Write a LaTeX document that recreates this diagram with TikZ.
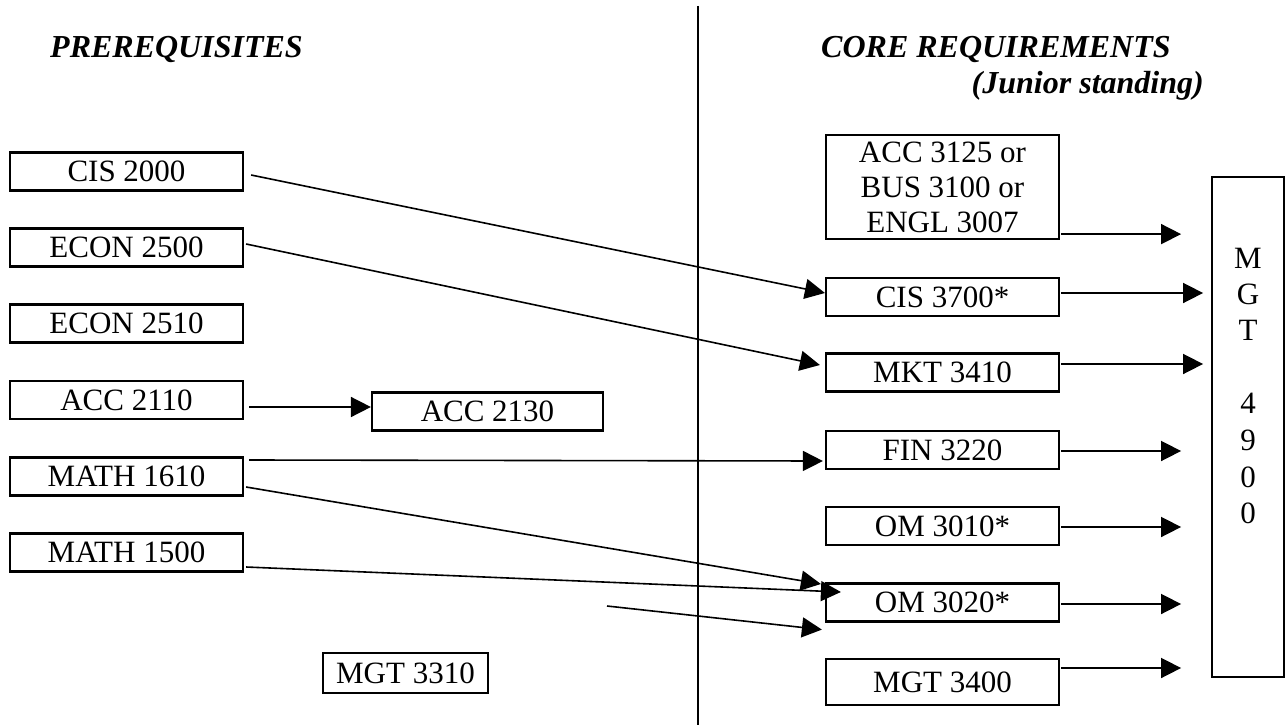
\documentclass[tikz,border=0pt]{standalone}
\usepackage{fontspec}
\setmainfont{Liberation Serif}
\usetikzlibrary{arrows.meta}
\begin{document}
\begin{tikzpicture}[x=1pt,y=-1pt,
  course/.style={draw, line width=2.2pt, minimum width=233pt, minimum height=38pt,
    inner sep=0pt, font=\fontsize{31}{35}\selectfont, align=center},
  heading/.style={font=\fontsize{32}{36}\selectfont\bfseries\itshape, inner sep=0pt},
  letter/.style={font=\fontsize{31}{35}\selectfont, inner sep=0pt},
  arr/.style={line width=1.6pt, -{Triangle[length=20pt,width=20pt]}},
  divider/.style={line width=1.6pt}
]
\useasboundingbox (0,0) rectangle (1287,725);

% headings
\node[heading, anchor=base west] (pre) at (50,57) {PREREQUISITES};
\node[heading, anchor=base west] (core) at (821,57) {CORE REQUIREMENTS};
\node[heading, anchor=base east] (junior) at (1204,93) {(Junior standing)};

% divider
\coordinate (divtop) at (698,6);
\coordinate (divbot) at (698,725);
\draw[divider] (divtop) -- (divbot);

% prerequisites
\node[course] (cis2000)  at (126.5,171.5) {CIS 2000};
\node[course] (econ2500) at (126.5,247.5) {ECON 2500};
\node[course] (econ2510) at (126.5,323.5) {ECON 2510};
\node[course] (acc2110)  at (126.5,400)   {ACC 2110};
\node[course] (math1610) at (126.5,476.5) {MATH 1610};
\node[course] (math1500) at (126.5,552.5) {MATH 1500};
\node[course, minimum width=231pt] (acc2130) at (487.5,411.5) {ACC 2130};
\node[course, minimum width=165pt, minimum height=40pt] (mgt3310) at (405.5,673) {MGT 3310};

% core requirements
\node[course, minimum height=104pt] (acc3125) at (942.5,187) {ACC 3125 or\\BUS 3100 or\\ENGL 3007};
\node[course] (cis3700) at (942.5,297)   {CIS 3700*};
\node[course] (mkt3410) at (942.5,372.5) {MKT 3410};
\node[course] (fin3220) at (942.5,450)   {FIN 3220};
\node[course] (om3010)  at (942.5,526)   {OM 3010*};
\node[course] (om3020)  at (942.5,602.5) {OM 3020*};
\node[course, minimum height=46pt] (mgt3400) at (942.5,682) {MGT 3400};

% capstone
\node[draw, line width=2.2pt, minimum width=72pt, minimum height=500pt, inner sep=0pt] (mgt4900) at (1248,427) {};
\foreach \ch/\yy [count=\i] in {M/258,G/294,T/330,4/403,9/440,0/477,0/513}
  \node[letter] (mgtl\i) at (1248,\yy) {\ch};

% prerequisite arrows
\draw[arr] ([xshift=7pt,yshift=-3.5pt]cis2000.east) -- ([yshift=4pt]cis3700.west);
\draw[arr] ([xshift=2pt,yshift=3.5pt]econ2500.east) -- ([xshift=-5pt,yshift=7.5pt]mkt3410.west);
\draw[arr] ([xshift=5pt,yshift=-7pt]acc2110.east) -- ([yshift=4.5pt]acc2130.west);
\draw[arr] ([xshift=5pt,yshift=16.5pt]math1610.east) -- ([xshift=-2pt,yshift=-11pt]fin3220.west);
\draw[arr] ([xshift=2pt,yshift=-10.5pt]math1610.east) -- ([xshift=-4pt,yshift=18.5pt]om3020.west);
\draw[arr] ([xshift=2pt,yshift=-14.5pt]math1500.east) -- ([xshift=16pt,yshift=10.5pt]om3020.west);
\coordinate (freestart) at (607,606);
\draw[arr] (freestart) -- ([xshift=-3pt,yshift=-7pt]om3020.south west);

% arrows to MGT 4900
\draw[arr] ([xshift=1pt,yshift=6pt]acc3125.south east) -- ++(120,0);
\draw[arr] ([xshift=1pt,yshift=4pt]cis3700.east) -- ++(142,0);
\draw[arr] ([xshift=1pt,yshift=8.5pt]mkt3410.east) -- ++(142,0);
\draw[arr] ([xshift=1pt,yshift=-1pt]fin3220.east) -- ++(120,0);
\draw[arr] ([xshift=1pt,yshift=-1pt]om3010.east) -- ++(120,0);
\draw[arr] ([xshift=1pt,yshift=-1.5pt]om3020.east) -- ++(120,0);
\draw[arr] ([xshift=1pt,yshift=14pt]mgt3400.east) -- ++(120,0);
\end{tikzpicture}
\end{document}
